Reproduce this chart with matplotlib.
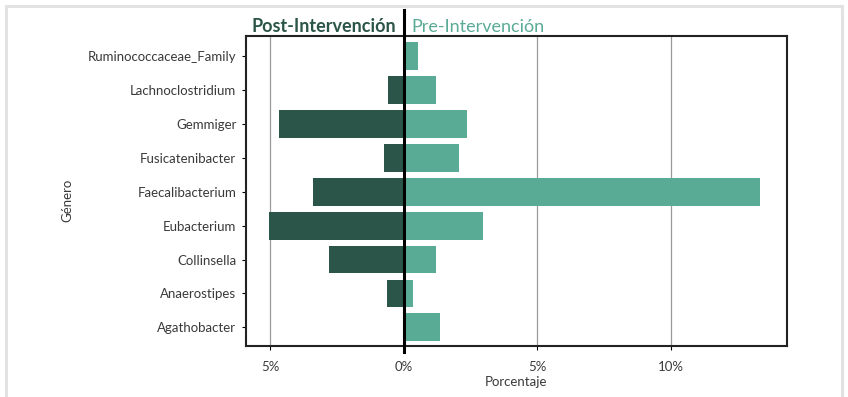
import matplotlib
matplotlib.use("Agg")
import matplotlib.pyplot as plt
from matplotlib.ticker import FuncFormatter
from matplotlib.patches import Rectangle

plt.rcParams['font.family'] = ['Lato', 'DejaVu Sans']

# Genera ordered top to bottom
genera = ["Ruminococcaceae_Family", "Lachnoclostridium", "Gemmiger",
          "Fusicatenibacter", "Faecalibacterium", "Eubacterium",
          "Collinsella", "Anaerostipes", "Agathobacter"]
# Percentages after the intervention (drawn to the left)
post_pct = [0.0, 0.6, 4.65, 0.75, 3.4, 5.05, 2.8, 0.63, 0.0]
# Percentages before the intervention (drawn to the right)
pre_pct = [0.52, 1.2, 2.36, 2.07, 13.35, 2.96, 1.22, 0.35, 1.37]
xticks = [-5, 0, 5, 10]

dark = "#2b5548"
light = "#5aab96"
text_col = "#3a3a3a"

fig = plt.figure(figsize=(8.48, 3.97), dpi=100)
fig.patch.set_facecolor("white")

# card outline
fig.add_artist(Rectangle((6/848, -0.02), (842-6)/848, 1 - 6/397 + 0.02,
                         transform=fig.transFigure, facecolor="none",
                         edgecolor="#e2e2e2", lw=2.2, zorder=0))

ax = fig.add_axes([246/848, 1 - 346/397, (787-246)/848, (346-36)/397])

y = list(range(len(genera)))
ax.barh(y, [-v for v in post_pct], height=0.82, color=dark, zorder=2)
ax.barh(y, pre_pct, height=0.82, color=light, zorder=2)

ax.set_ylim(len(genera) - 0.45, -0.6)
ax.set_xlim(-5.9, 14.35)
ax.set_yticks(y)
ax.set_yticklabels(genera, fontsize=9.5, color=text_col)
ax.set_xticks(xticks)
ax.xaxis.set_major_formatter(FuncFormatter(lambda v, p: f"{abs(v):.0f}%"))
ax.tick_params(axis="x", labelsize=9.5, labelcolor=text_col, length=3, pad=8)
ax.tick_params(axis="y", length=3, pad=4)

for v in xticks:
    if v != 0:
        ax.axvline(v, color="#9a9a9a", lw=0.9, zorder=1)

ax.axvline(0, ymin=-0.02, ymax=1.085, color="black", lw=2.2, zorder=3,
           clip_on=False)

for s in ax.spines.values():
    s.set_linewidth(1.5)
    s.set_color("#222222")

ax.set_xlabel("Porcentaje", fontsize=9.5, color=text_col, labelpad=2)
fig.text(67/848, 1 - 200/397, "Género", rotation=90, fontsize=9.5,
         color=text_col, ha="center", va="center")

fig.text(396/848, 1 - 27/397, "Post-Intervención", ha="right", va="center",
         fontsize=13, fontweight="bold", color=dark)
fig.text(411/848, 1 - 27/397, "Pre-Intervención", ha="left", va="center",
         fontsize=13, color=light)

fig.savefig("out.png", dpi=100, facecolor=fig.get_facecolor())
